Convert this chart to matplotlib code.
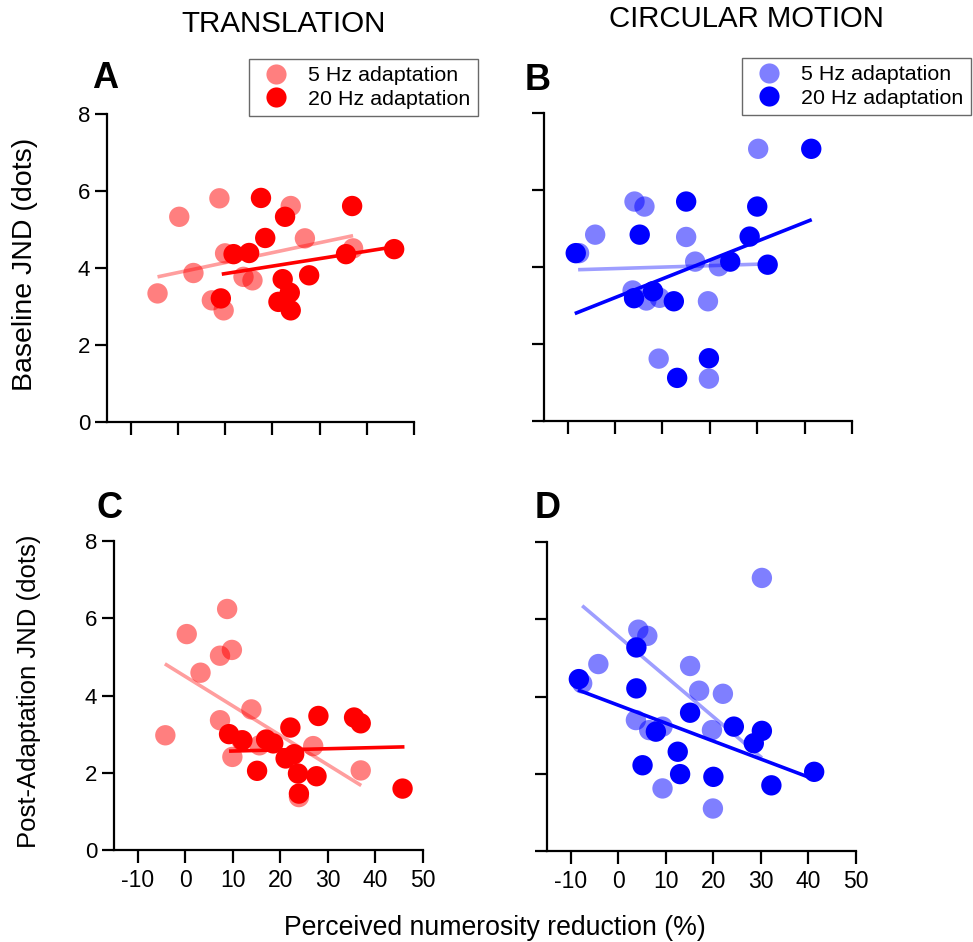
import matplotlib
matplotlib.use("Agg")
import matplotlib.pyplot as plt
from matplotlib.lines import Line2D

plt.rcParams['font.family'] = ['Liberation Sans', 'DejaVu Sans']
plt.rcParams['axes.unicode_minus'] = False

# ---------------- data ----------------
# Panel A: translation, baseline JND
a5_x = [0.3, 8.8, 23.9, 26.9, 37.1, 10.0, 3.3, -4.3, 13.9, 15.8, 7.2, 9.7]
a5_y = [5.33, 5.81, 5.61, 4.77, 4.51, 4.38, 3.87, 3.34, 3.77, 3.68, 3.16, 2.90]
a20_x = [17.6, 22.7, 36.9, 18.5, 11.8, 15.1, 35.6, 45.8, 9.1, 22.2, 27.8, 23.7, 21.3, 23.9]
a20_y = [5.82, 5.33, 5.61, 4.78, 4.36, 4.39, 4.36, 4.49, 3.21, 3.71, 3.81, 3.36, 3.12, 2.90]
a5_fit_x, a5_fit_y = [-4.3, 37.1], [3.77, 4.84]
a20_fit_x, a20_fit_y = [9.3, 45.8], [3.84, 4.55]

# Panel B: circular motion, baseline JND
b5_x = [30.2, 4.1, 6.2, -4.2, 15.0, -7.6, 16.9, 21.9, 3.7, 6.6, 9.4, 19.6, 9.2, 19.8]
b5_y = [7.07, 5.70, 5.57, 4.84, 4.78, 4.36, 4.14, 4.02, 3.39, 3.13, 3.20, 3.11, 1.62, 1.10]
b20_x = [41.4, 15.0, 30.0, 5.2, 28.4, -8.3, 24.3, 32.2, 4.0, 8.0, 12.4, 19.8, 13.1]
b20_y = [7.07, 5.70, 5.57, 4.84, 4.79, 4.36, 4.14, 4.06, 3.19, 3.37, 3.11, 1.63, 1.12]
b5_fit_x, b5_fit_y = [-7.8, 32.0], [3.93, 4.08]
b20_fit_x, b20_fit_y = [-8.5, 41.5], [2.79, 5.23]

# Panel C: translation, post-adaptation JND
c5_x = [8.8, 0.3, 9.8, 7.3, 3.2, 13.9, 7.3, -4.2, 11.8, 15.6, 26.9, 9.9, 36.9, 23.9]
c5_y = [6.24, 5.59, 5.18, 5.03, 4.59, 3.64, 3.36, 2.97, 2.84, 2.71, 2.69, 2.41, 2.06, 1.37]
c20_x = [28.0, 35.5, 36.9, 22.1, 9.2, 12.0, 17.0, 18.5, 22.9, 21.1, 15.1, 23.7, 27.6, 23.9, 45.7]
c20_y = [3.47, 3.43, 3.28, 3.17, 3.00, 2.84, 2.86, 2.76, 2.48, 2.37, 2.05, 1.98, 1.91, 1.46, 1.59]
c5_fit_x, c5_fit_y = [-4.3, 37.0], [4.82, 1.67]
c20_fit_x, c20_fit_y = [9.2, 46.1], [2.56, 2.67]

# Panel D: circular motion, post-adaptation JND
d5_x = [30.2, 4.2, 6.1, -4.2, 15.1, -7.6, 17.0, 22.0, 3.7, 6.5, 9.3, 19.7, 9.3, 19.9]
d5_y = [7.07, 5.73, 5.57, 4.84, 4.79, 4.34, 4.15, 4.07, 3.39, 3.13, 3.22, 3.13, 1.62, 1.10]
d20_x = [3.8, -8.3, 3.8, 15.1, 7.9, 24.3, 30.2, 28.5, 12.5, 5.1, 13.0, 20.0, 32.2, 41.2]
d20_y = [5.27, 4.45, 4.21, 3.58, 3.09, 3.22, 3.11, 2.79, 2.57, 2.22, 1.99, 1.92, 1.70, 2.05]
d5_fit_x, d5_fit_y = [-7.6, 30.2], [6.35, 2.41]
d20_fit_x, d20_fit_y = [-8.5, 40.3], [4.17, 1.90]

x_ticks = [-10, 0, 10, 20, 30, 40, 50]
y_ticks = [0, 2, 4, 6, 8]
legend_labels = ["5 Hz adaptation", "20 Hz adaptation"]

# ---------------- figure ----------------
W, H = 973, 942
fig = plt.figure(figsize=(W / 100, H / 100), dpi=100)

def box(l, t, r, b):
    return [l / W, 1 - b / H, (r - l) / W, (b - t) / H]

axA = fig.add_axes(box(107, 114, 414, 422))
axB = fig.add_axes(box(544, 113, 852, 421))
axC = fig.add_axes(box(114, 541, 423, 850))
axD = fig.add_axes(box(547, 542, 856, 851))

S = 215
ALPHA = 0.5

def panel(ax, x5, y5, x20, y20, f5x, f5y, f20x, f20y, col, show_x, show_y):
    ax.scatter(x5, y5, s=S, color=col, alpha=ALPHA, edgecolors='none', zorder=2)
    ax.scatter(x20, y20, s=S, color=col, alpha=1.0, edgecolors='none', zorder=3)
    ax.plot(f5x, f5y, color=col, alpha=0.38, lw=2.6, solid_capstyle='butt', zorder=4)
    ax.plot(f20x, f20y, color=col, lw=2.6, solid_capstyle='butt', zorder=4)
    ax.set_xlim(-15, 50)
    ax.set_ylim(0, 8)
    ax.set_xticks(x_ticks)
    ax.set_yticks(y_ticks)
    for s in ['top', 'right']:
        ax.spines[s].set_visible(False)
    for s in ['left', 'bottom']:
        ax.spines[s].set_linewidth(1.6)
    ax.tick_params(direction='out', length=9, width=1.6, pad=4)
    ax.tick_params(axis='y', labelsize=16, pad=3)
    ax.tick_params(axis='x', labelsize=16.5, pad=5)
    if not show_x:
        ax.set_xticklabels([])
    if not show_y:
        ax.set_yticklabels([])
    for c in ax.collections:
        c.set_clip_on(False)

panel(axA, a5_x, a5_y, a20_x, a20_y, a5_fit_x, a5_fit_y, a20_fit_x, a20_fit_y, 'red', False, True)
panel(axB, b5_x, b5_y, b20_x, b20_y, b5_fit_x, b5_fit_y, b20_fit_x, b20_fit_y, 'blue', False, False)
panel(axC, c5_x, c5_y, c20_x, c20_y, c5_fit_x, c5_fit_y, c20_fit_x, c20_fit_y, 'red', True, True)
panel(axD, d5_x, d5_y, d20_x, d20_y, d5_fit_x, d5_fit_y, d20_fit_x, d20_fit_y, 'blue', True, False)

def legend(ax, col, bbox):
    handles = [Line2D([], [], ls='none', marker='o', ms=14.5, mec='none', color=col, alpha=ALPHA),
               Line2D([], [], ls='none', marker='o', ms=14.5, mec='none', color=col)]
    lg = ax.legend(handles, legend_labels, loc='upper left', bbox_to_anchor=bbox,
                   bbox_transform=fig.transFigure, frameon=True, fancybox=False,
                   edgecolor='#444444', fontsize=15.4, handletextpad=0.6,
                   borderpad=0.35, labelspacing=0.2, handlelength=1.8, borderaxespad=0)
    lg.get_frame().set_linewidth(1.0)

legend(axA, 'red', (249 / W, 1 - 59 / H))
legend(axB, 'blue', (742 / W, 1 - 58 / H))

# titles / labels
fig.text(284 / W, 1 - 24 / H, "TRANSLATION", ha='center', va='center', fontsize=21.3)
fig.text(746 / W, 1 - 19 / H, "CIRCULAR MOTION", ha='center', va='center', fontsize=21.2)
for lab, x, y in [("A", 105, 78), ("B", 538, 80), ("C", 109, 508), ("D", 548, 509)]:
    fig.text(x / W, 1 - y / H, lab, ha='center', va='center', fontsize=26, fontweight='bold')
fig.text(25 / W, 1 - 264 / H, "Baseline JND (dots)", ha='center', va='center',
         rotation=90, fontsize=20.5)
fig.text(29 / W, 1 - 691 / H, "Post-Adaptation JND (dots)", ha='center', va='center',
         rotation=90, fontsize=18.5)
fig.text(495 / W, 1 - 928 / H, "Perceived numerosity reduction (%)", ha='center',
         va='center', fontsize=19.2)

fig.savefig("out.png", dpi=100)
